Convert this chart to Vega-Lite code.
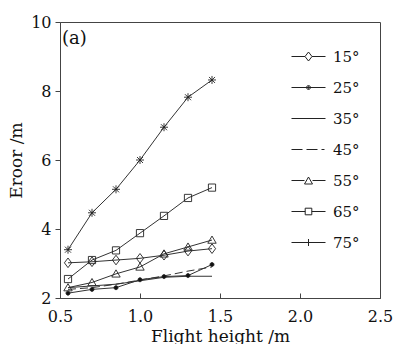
{
  "$schema": "https://vega.github.io/schema/vega-lite/v6.json",
  "width": 320,
  "height": 276,
  "autosize": {"type": "none"},
  "padding": {"left": 60, "top": 22, "right": 17, "bottom": 46},
  "background": "white",
  "title": {"text": "(a)", "anchor": "start", "frame": "group", "orient": "top", "offset": -25, "dx": 2, "dy": 27, "baseline": "bottom", "font": "DejaVu Serif", "fontSize": 18, "fontWeight": "normal", "color": "#111"},
  "config": {
    "view": {"stroke": "#444", "strokeWidth": 1},
    "axis": {"domainColor": "#444", "tickColor": "#444", "labelFont": "DejaVu Serif", "titleFont": "DejaVu Serif", "labelFontSize": 16, "titleFontSize": 17, "titleFontWeight": "normal", "labelColor": "#111", "titleColor": "#111", "grid": false},
    "legend": {"labelFont": "DejaVu Serif", "labelFontSize": 15, "labelColor": "#111"}
  },
  "resolve": {"scale": {"shape": "independent"}, "legend": {"shape": "independent"}},
  "data": {"values": [
    {"s": "15°", "x": 0.55, "y": 3.02}, {"s": "15°", "x": 0.7, "y": 3.05}, {"s": "15°", "x": 0.85, "y": 3.1}, {"s": "15°", "x": 1.0, "y": 3.15}, {"s": "15°", "x": 1.15, "y": 3.24}, {"s": "15°", "x": 1.3, "y": 3.36}, {"s": "15°", "x": 1.45, "y": 3.43},
    {"s": "25°", "x": 0.55, "y": 2.14}, {"s": "25°", "x": 0.7, "y": 2.25}, {"s": "25°", "x": 0.85, "y": 2.3}, {"s": "25°", "x": 1.0, "y": 2.53}, {"s": "25°", "x": 1.15, "y": 2.62}, {"s": "25°", "x": 1.3, "y": 2.65}, {"s": "25°", "x": 1.45, "y": 2.97},
    {"s": "35°", "x": 0.55, "y": 2.3}, {"s": "35°", "x": 0.7, "y": 2.35}, {"s": "35°", "x": 0.85, "y": 2.4}, {"s": "35°", "x": 1.0, "y": 2.5}, {"s": "35°", "x": 1.15, "y": 2.6}, {"s": "35°", "x": 1.3, "y": 2.63}, {"s": "35°", "x": 1.45, "y": 2.63},
    {"s": "45°", "x": 0.55, "y": 2.25}, {"s": "45°", "x": 0.7, "y": 2.3}, {"s": "45°", "x": 0.85, "y": 2.4}, {"s": "45°", "x": 1.0, "y": 2.52}, {"s": "45°", "x": 1.15, "y": 2.64}, {"s": "45°", "x": 1.3, "y": 2.78}, {"s": "45°", "x": 1.45, "y": 2.9},
    {"s": "55°", "x": 0.55, "y": 2.3}, {"s": "55°", "x": 0.7, "y": 2.45}, {"s": "55°", "x": 0.85, "y": 2.7}, {"s": "55°", "x": 1.0, "y": 2.9}, {"s": "55°", "x": 1.15, "y": 3.28}, {"s": "55°", "x": 1.3, "y": 3.48}, {"s": "55°", "x": 1.45, "y": 3.68},
    {"s": "65°", "x": 0.55, "y": 2.55}, {"s": "65°", "x": 0.7, "y": 3.1}, {"s": "65°", "x": 0.85, "y": 3.38}, {"s": "65°", "x": 1.0, "y": 3.88}, {"s": "65°", "x": 1.15, "y": 4.38}, {"s": "65°", "x": 1.3, "y": 4.9}, {"s": "65°", "x": 1.45, "y": 5.2},
    {"s": "75°", "x": 0.55, "y": 3.4}, {"s": "75°", "x": 0.7, "y": 4.47}, {"s": "75°", "x": 0.85, "y": 5.15}, {"s": "75°", "x": 1.0, "y": 6.0}, {"s": "75°", "x": 1.15, "y": 6.95}, {"s": "75°", "x": 1.3, "y": 7.82}, {"s": "75°", "x": 1.45, "y": 8.32}
  ]},
  "encoding": {
    "x": {"field": "x", "type": "quantitative", "scale": {"domain": [0.5, 2.5], "nice": false, "zero": false},
      "axis": {"title": "Flight height /m", "values": [0.5, 1.0, 1.5, 2.0, 2.5], "format": ".1f", "tickSize": -5, "labelPadding": 15, "titlePadding": 4, "labelFlush": false}},
    "y": {"field": "y", "type": "quantitative", "scale": {"domain": [2, 10], "nice": false, "zero": false},
      "axis": {"title": "Eroor /m", "values": [2, 4, 6, 8, 10], "tickSize": 5, "labelPadding": 4, "titlePadding": 5, "labelFlush": false}}
  },
  "layer": [
    {
      "transform": [{"filter": "datum.s !== '45°'"}],
      "mark": {"type": "line", "color": "#333", "strokeWidth": 1},
      "encoding": {"detail": {"field": "s"}}
    },
    {
      "transform": [{"filter": "datum.s === '45°'"}],
      "mark": {"type": "line", "color": "#333", "strokeWidth": 1, "strokeDash": [8, 4]},
      "encoding": {}
    },
    {
      "transform": [{"filter": "datum.s !== '35°' && datum.s !== '45°'"}],
      "mark": {"type": "point", "filled": true, "size": 64, "stroke": "#222", "strokeWidth": 0.9, "opacity": 1},
      "encoding": {
        "shape": {"field": "s", "type": "nominal", "legend": null,
          "scale": {"domain": ["15°", "25°", "35°", "45°", "55°", "65°", "75°"],
            "range": ["M0,-1.2L0.9,0L0,1.2L-0.9,0Z", "M0.5,0A0.5,0.5 0 1,1 -0.5,0A0.5,0.5 0 1,1 0.5,0Z", "M0,0", "M0,0", "M0,-1L1.05,0.8H-1.05Z", "M-0.9,-0.9H0.9V0.9H-0.9Z", "M-1,0H1M0,-1V1M-0.75,-0.75L0.75,0.75M-0.75,0.75L0.75,-0.75"]}
        },
        "fill": {"condition": {"test": "datum.s === '25°'", "value": "#111"}, "value": "transparent"}
      }
    },
    {
      "transform": [{"filter": "datum.s === 'none'"}],
      "mark": {"type": "point", "filled": false, "size": 400, "stroke": "#222", "strokeWidth": 1, "opacity": 1},
      "encoding": {
        "shape": {"field": "s", "type": "nominal",
          "scale": {"domain": ["15°", "25°", "35°", "45°", "55°", "65°", "75°"],
            "range": [
              "M-1.7,0H-0.35M0.35,0H1.7M0,-0.45L0.35,0L0,0.45L-0.35,0Z",
              "M-1.7,0H1.7M0.2,0A0.2,0.2 0 1,1 -0.2,0A0.2,0.2 0 1,1 0.2,0ZM0.1,0A0.1,0.1 0 1,1 -0.1,0A0.1,0.1 0 1,1 0.1,0Z",
              "M-1.7,0H1.7",
              "M-1.7,0H-0.6M-0.2,0H0.9M1.3,0H1.6",
              "M-1.7,0H-0.4M0.4,0H1.7M0,-0.35L0.4,0.35H-0.4Z",
              "M-1.7,0H-0.33M0.33,0H1.7M-0.33,-0.33H0.33V0.33H-0.33Z",
              "M-1.7,0H1.7M0,-0.35V0.35"
            ]},
          "legend": {"title": null, "orient": "none", "legendX": 238, "legendY": 24, "symbolSize": 400, "symbolStrokeWidth": 1, "symbolStrokeColor": "#222", "symbolOpacity": 1, "rowPadding": 12, "labelOffset": 14, "padding": 0}
        }
      }
    }
  ]
}
